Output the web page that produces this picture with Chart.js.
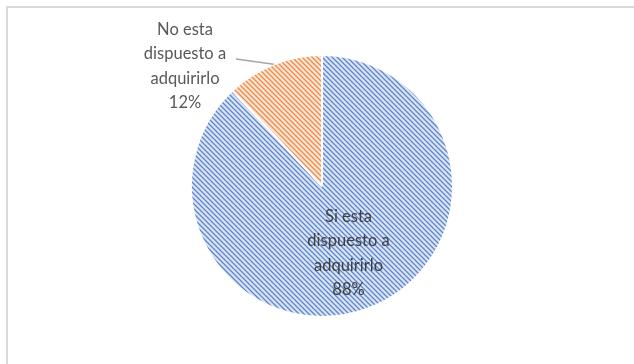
<!DOCTYPE html>
<html>
<head>
<meta charset="utf-8">
<script src="https://cdn.jsdelivr.net/npm/chart.js@4"></script>
<style>
  html, body { margin: 0; padding: 0; background: #fff; }
  #wrap { position: relative; width: 634px; height: 364px; }
  #frame { position: absolute; left: 6px; top: 6px; width: 640px; height: 400px;
           border-left: 2px solid #d9d9d9; border-top: 2px solid #d9d9d9; box-sizing: border-box; }
  canvas { position: absolute; left: 0; top: 0; }
</style>
</head>
<body>
<div id="wrap">
  <div id="frame"></div>
  <canvas id="chart" width="634" height="364"></canvas>
</div>
<script>
// DATA
const labels = [
  ["Si esta", "dispuesto a", "adquirirlo"],
  ["No esta", "dispuesto a", "adquirirlo"]
];
const values = [88, 12];
const pctLabels = ["88%", "12%"];

// COLORS
const darkColors = ["#5b84cc", "#ef8a45"];
const lightColors = ["#dbe4f4", "#fce6d7"];
const midColors = ["#a4bbe4", "#f6bd96"];

// Diagonal stripe pattern (Excel "dark downward diagonal"-ish)
function stripePattern(dark, mid, light) {
  const n = 5;
  const c = document.createElement("canvas");
  c.width = n; c.height = n;
  const g = c.getContext("2d");
  for (let y = 0; y < n; y++) {
    for (let x = 0; x < n; x++) {
      const d = ((x - y) % n + n) % n;
      g.fillStyle = d === 0 ? dark : (d === 1 || d === 4 ? mid : light);
      g.fillRect(x, y, 1, 1);
    }
  }
  return g.createPattern(c, "repeat");
}

const ctx = document.getElementById("chart").getContext("2d");
const patterns = values.map((_, i) => stripePattern(darkColors[i], midColors[i], lightColors[i]));

const FONT = '16.5px Lato, "Open Sans", sans-serif';

// Data label plugin
const pieLabels = {
  id: "pieLabels",
  afterDatasetsDraw(chart) {
    const c = chart.ctx;
    const meta = chart.getDatasetMeta(0);
    c.save();
    c.font = FONT;
    c.textAlign = "center";
    c.textBaseline = "middle";
    meta.data.forEach((arc, i) => {
      const { x, y, startAngle, endAngle, outerRadius } = arc.getProps(["x", "y", "startAngle", "endAngle", "outerRadius"], true);
      const mid = (startAngle + endAngle) / 2;
      const lines = labels[i].concat([pctLabels[i]]);
      const lh = 24.5;
      let cx, cy;
      if (i === 0) {
        // inside label
        cx = x + Math.cos(mid) * outerRadius * 0.55;
        cy = y + Math.sin(mid) * outerRadius * 0.55;
        c.fillStyle = "#404040";
      } else {
        // outside label with leader line
        cx = x - 137;
        cy = y - 120;
        const ex = x + Math.cos(mid) * outerRadius;
        const ey = y + Math.sin(mid) * outerRadius;
        c.strokeStyle = "#a6a6a6";
        c.lineWidth = 1.5;
        c.beginPath();
        c.moveTo(cx + 51, cy - 7);
        c.lineTo(ex, ey);
        c.stroke();
        c.fillStyle = "#595959";
      }
      const top = cy - (lines.length - 1) * lh / 2;
      lines.forEach((t, k) => c.fillText(t, cx, top + k * lh));
    });
    c.restore();
  }
};

new Chart(ctx, {
  type: "pie",
  data: {
    labels: labels.map(l => l.join(" ")),
    datasets: [{
      data: values,
      backgroundColor: patterns,
      borderColor: "#ffffff",
      borderWidth: 2,
      hoverOffset: 0,
      offset: 0
    }]
  },
  options: {
    responsive: false,
    animation: false,
    layout: { padding: { top: 54, bottom: 46, left: 190, right: 180 } },
    plugins: {
      legend: { display: false },
      tooltip: { enabled: false }
    }
  },
  plugins: [pieLabels]
});
</script>
</body>
</html>
